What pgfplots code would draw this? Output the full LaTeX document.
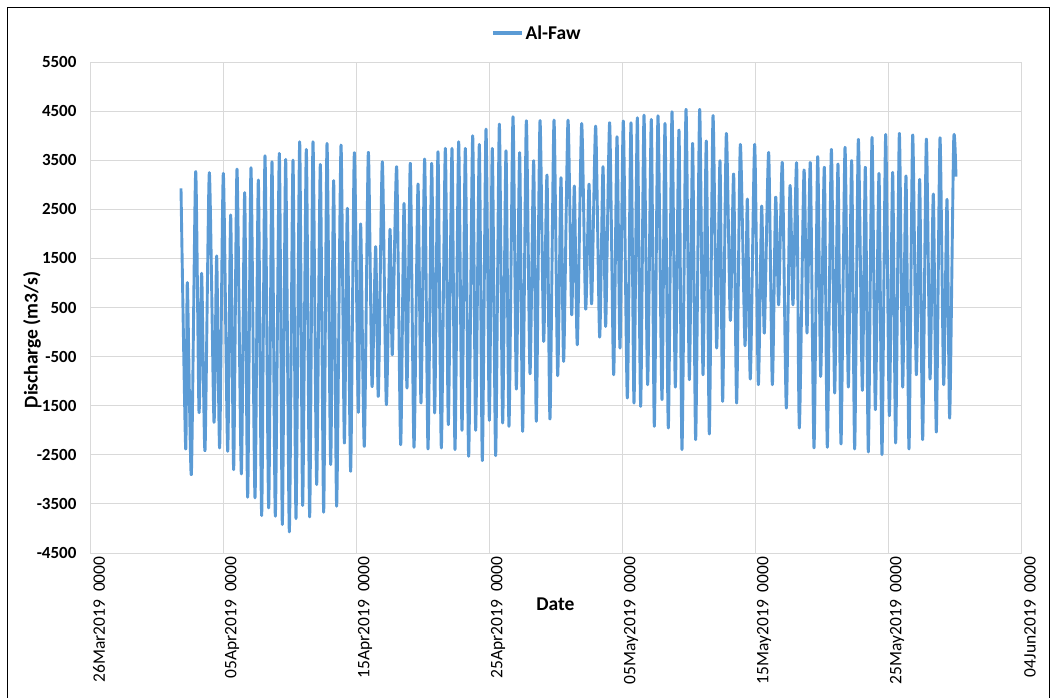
\documentclass[border=0pt]{standalone}
\usepackage{fontspec}
\setmainfont{Carlito}
\usepackage{pgfplots}
\usepackage{pgfplotstable}
\pgfplotsset{compat=1.18}
\definecolor{fawblue}{RGB}{91,155,213}
\definecolor{gridgray}{RGB}{217,217,217}

% Al-Faw discharge: successive high/low turning points
% day = days after 26 Mar 2019 00:00, q = discharge (m3/s)
\pgfplotstableread{
day q
6.842 2927
7.193 -2382
7.318 1008
7.619 -2904
7.945 3266
8.196 -1636
8.396 1198
8.647 -2416
8.972 3246
9.323 -1839
9.524 1551
9.749 -2361
10.025 3232
10.351 -2429
10.577 2385
10.802 -2802
11.053 3320
11.378 -2890
11.629 2839
11.855 -3365
12.105 3347
12.406 -3378
12.657 3096
12.907 -3738
13.158 3591
13.434 -3582
13.684 3469
13.935 -3751
14.236 3639
14.461 -3921
14.712 3517
14.988 -4070
15.263 3503
15.489 -3799
15.765 3876
15.990 -3534
16.266 3720
16.516 -3765
16.767 3876
17.043 -3107
17.318 3415
17.569 -3670
17.820 3842
18.095 -2700
18.321 3083
18.546 -3548
18.872 3808
19.123 -2260
19.348 2520
19.599 -2836
19.875 3653
20.175 -1636
20.351 2202
20.626 -2327
20.927 3659
21.203 -1107
21.479 1741
21.679 -1310
21.980 3469
22.281 -1480
22.556 2093
22.732 -463
23.058 3368
23.358 -2294
23.609 2622
23.835 -1141
24.085 3436
24.361 -2348
24.662 3015
24.887 -1446
25.163 3524
25.414 -2382
25.689 3436
25.915 -1649
26.165 3673
26.416 -2361
26.717 3741
26.942 -1887
27.218 3741
27.444 -2395
27.719 3876
27.970 -2002
28.221 3741
28.471 -2531
28.772 3998
28.997 -2002
29.273 3822
29.499 -2619
29.774 4134
30.025 -1799
30.250 3741
30.501 -2517
30.777 4236
31.027 -1853
31.278 3693
31.504 -1921
31.804 4385
32.055 -1161
32.305 3653
32.531 -2022
32.807 4303
33.083 -849
33.358 3490
33.559 -1819
33.834 4303
34.110 -192
34.361 3198
34.586 -1771
34.887 4317
35.163 -890
35.413 3144
35.614 -599
35.940 4317
36.216 351
36.416 2975
36.641 -260
36.967 4249
37.268 466
37.519 3015
37.719 574
38.020 4195
38.320 -104
38.571 3368
38.772 113
39.072 4263
39.373 -870
39.624 3978
39.849 -327
40.100 4297
40.400 -1344
40.676 4263
40.902 -1446
41.153 4364
41.403 -1514
41.654 4419
41.929 -1073
42.205 4331
42.431 -1921
42.706 4405
43.007 -1378
43.233 4249
43.483 -1955
43.759 4486
44.010 -1121
44.285 4114
44.511 -2395
44.812 4534
45.062 -971
45.313 3842
45.539 -2192
45.839 4534
46.090 -870
46.340 3890
46.566 -2077
46.842 4405
47.117 -327
47.368 3490
47.569 -1412
47.844 4046
48.145 235
48.396 3219
48.621 -1446
48.897 3822
49.248 -280
49.423 2710
49.649 -958
49.975 3822
50.250 -1073
50.501 2568
50.701 -22
51.027 3659
51.303 -1073
51.553 2744
51.779 554
52.055 3449
52.355 -1548
52.631 2975
52.857 554
53.132 3436
53.333 -1955
53.685 3300
53.910 -22
54.161 3449
54.437 -2361
54.712 3571
54.938 -904
55.214 3354
55.439 -2348
55.740 3720
55.991 -1243
56.241 3422
56.467 -2280
56.767 3761
57.018 -1121
57.269 3490
57.494 -2382
57.770 3924
58.071 -1188
58.296 3354
58.522 -2443
58.798 3964
59.048 -1582
59.324 3232
59.549 -2497
59.825 4025
60.101 -1704
60.351 3252
60.577 -2260
60.853 4046
61.103 -1121
61.354 3178
61.580 -2382
61.855 4012
62.131 -870
62.382 3110
62.607 -2192
62.883 3930
63.159 -958
63.409 2812
63.635 -2036
63.910 3958
64.186 -1073
64.437 2703
64.637 -1751
64.938 3890
65.113 3164
}\alfaw

\begin{document}
\begin{tikzpicture}[x=1pt,y=1pt]
\useasboundingbox (0,0) rectangle (1057,697);
\begin{axis}[
  at={(90pt,144pt)}, anchor=south west,
  scale only axis, width=931pt, height=491pt,
  xmin=0, xmax=70, ymin=-4500, ymax=5500,
  xtick={0,10,...,70},
  xticklabels={26Mar2019\ \ 0000,05Apr2019\ \ 0000,15Apr2019\ \ 0000,25Apr2019\ \ 0000,05May2019\ \ 0000,15May2019\ \ 0000,25May2019\ \ 0000,04Jun2019\ \ 0000},
  ytick={-4500,-3500,...,5500},
  yticklabels={-4500,-3500,-2500,-1500,-500,500,1500,2500,3500,4500,5500},
  /pgf/number format/assume math mode=true,
  grid=major,
  major grid style={gridgray, line width=0.9pt},
  axis line style={gridgray, line width=0.9pt},
  major tick length=0pt,
  x tick label style={rotate=90, anchor=east, yshift=-9pt,
    font=\fontsize{17.5}{17.5}\selectfont},
  y tick label style={anchor=east, xshift=-10pt,
    font=\bfseries\fontsize{17}{17}\selectfont},
  xlabel={Date},
  xlabel style={at={(axis description cs:0.5,-0.104)}, anchor=center,
    font=\bfseries\fontsize{19.5}{19.5}\selectfont},
  ylabel={Discharge (m3/s)},
  ylabel style={at={(axis description cs:-0.0623,0.434)}, anchor=center, rotate=0,
    font=\bfseries\fontsize{19.5}{19.5}\selectfont},
  legend style={at={(axis description cs:0.48,1.059)}, anchor=center,
    draw=none, fill=none, font=\bfseries\fontsize{19.5}{19.5}\selectfont},
  legend image code/.code={\draw[#1, line width=3.5pt] (0pt,0pt) -- (29pt,0pt);},
]
\addplot[fawblue, line width=2.9pt, smooth, tension=0.4, line join=round]
  table[x=day, y=q] {\alfaw};
\addlegendentry{Al-Faw}
\end{axis}
\draw[black, line width=1.5pt] (7.5,-10) -- (7.5,689.5) -- (1049.5,689.5) -- (1049.5,-10);
\end{tikzpicture}
\end{document}
